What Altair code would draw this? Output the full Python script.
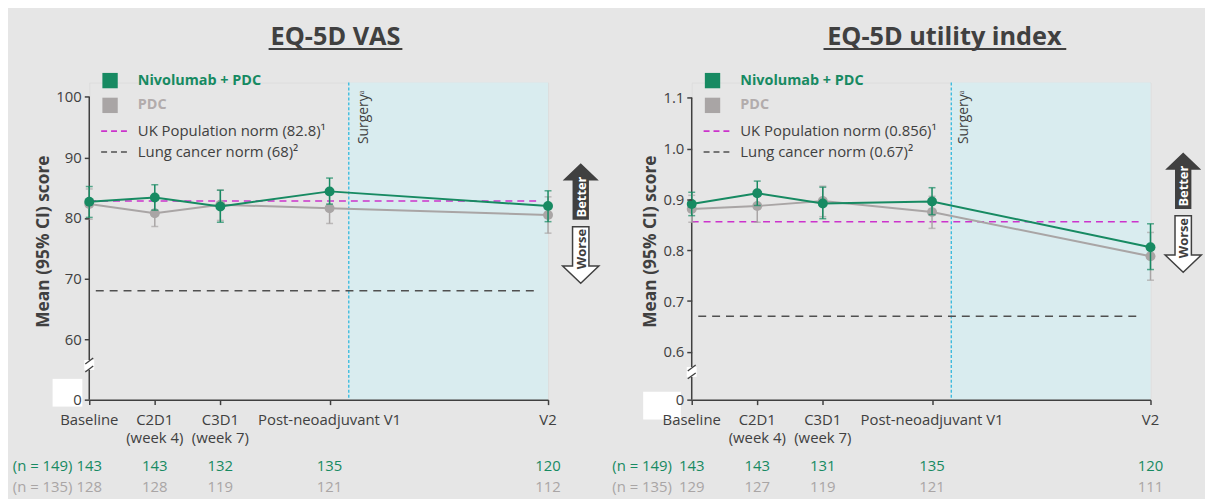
import altair as alt
import pandas as pd

# ---------------- data ----------------
tick_labels = ["Baseline", "C2D1\n(week 4)", "C3D1\n(week 7)", "Post-neoadjuvant V1", "V2"]
time_pos = [0, 3, 6, 11, 21]          # timepoint position (approx. weeks)
surgery_pos = 11.88
series_names = ["Nivolumab + PDC", "PDC"]
n_totals = ["(n = 149)", "(n = 135)"]

vas_nivo = [82.7, 83.4, 81.9, 84.4, 82.0]
vas_nivo_lo = [80.1, 81.3, 79.3, 82.3, 79.4]
vas_nivo_hi = [85.2, 85.5, 84.6, 86.6, 84.5]
vas_pdc = [82.3, 80.8, 82.2, 81.6, 80.5]
vas_pdc_lo = [79.8, 78.6, 79.6, 79.1, 77.5]
vas_pdc_hi = [84.8, 83.0, 84.6, 84.1, 83.5]
vas_uk_norm = 82.8
vas_lung_norm = 68
vas_n_nivo = [143, 143, 132, 135, 120]
vas_n_pdc = [128, 128, 119, 121, 112]

ui_nivo = [0.891, 0.912, 0.892, 0.896, 0.806]
ui_nivo_lo = [0.868, 0.888, 0.862, 0.870, 0.762]
ui_nivo_hi = [0.914, 0.936, 0.924, 0.923, 0.852]
ui_pdc = [0.881, 0.887, 0.897, 0.875, 0.788]
ui_pdc_lo = [0.855, 0.855, 0.866, 0.843, 0.741]
ui_pdc_hi = [0.908, 0.918, 0.926, 0.906, 0.835]
ui_uk_norm = 0.856
ui_lung_norm = 0.67
ui_n_nivo = [143, 143, 131, 135, 120]
ui_n_pdc = [129, 127, 119, 121, 111]

# ---------------- style ----------------
DARK = "#404040"
GREEN = "#178a62"
GRAY = "#a9a5a5"
GRAY_TXT = "#b2acac"
MAGENTA = "#cc33cc"
CYAN = "#22b5dc"
SHADE = "#d9ecef"
BG = "#e6e6e6"
W, H = 463, 320
FONT = "Open Sans"


def one(**kw):
    return pd.DataFrame({k: [v] for k, v in kw.items()})


def panel(title, title_x, ul, ydom, yticks, yfmt, zero_cut,
          nivo, nlo, nhi, pdc, plo, phi, uk, lung, uk_label, lung_label,
          n_nivo, n_pdc, surg_dy, break_y, wbox, arrow_y, ntot_x, bounds):
    xs = alt.Scale(domain=[0, 21], nice=False, zero=False)
    ys = alt.Scale(domain=ydom, nice=False, zero=False)

    xaxis = alt.Axis(values=time_pos, labels=False, tickSize=5, tickColor=DARK, tickWidth=1.5,
                     domainColor=DARK, domainWidth=1.5, grid=False, title=None, zindex=1)
    yaxis = alt.Axis(values=yticks, format=yfmt,
                     labelExpr=f"datum.value < {zero_cut} ? '0' : datum.label",
                     domain=False, tickSize=5, tickColor=DARK, tickWidth=1.5,
                     labelColor=DARK, labelFontSize=15, labelPadding=3, labelFont=FONT,
                     title="Mean (95% CI) score", titleFontSize=17.5, titleFontWeight="bold",
                     titleColor=DARK, titlePadding=3, titleFont=FONT, grid=False, zindex=1)

    def X(f):
        return alt.X(f"{f}:Q", scale=xs, axis=xaxis)

    def Y(f):
        return alt.Y(f"{f}:Q", scale=ys, axis=yaxis)

    layers = []
    layers.append(alt.Chart(one(a=0)).mark_rect(opacity=0).encode(
        x=alt.value(bounds[0]), x2=alt.value(bounds[1]),
        y=alt.value(bounds[2]), y2=alt.value(bounds[3])))
    # shaded post-surgery region
    layers.append(alt.Chart(one(x0=surgery_pos, x1=time_pos[-1])).mark_rect(color=SHADE).encode(
        x=X("x0"), x2="x1:Q", y=alt.value(0), y2=alt.value(H)))
    # white box artefact
    layers.append(alt.Chart(one(a=0)).mark_rect(color="white").encode(
        x=alt.value(wbox[0]), x2=alt.value(wbox[1]), y=alt.value(wbox[2]), y2=alt.value(wbox[3])))
    # y axis line
    layers.append(alt.Chart(one(x=0, y0=ydom[0], y1=yticks[-1])).mark_rule(color=DARK, strokeWidth=1.5).encode(
        x=X("x"), y=Y("y0"), y2="y1:Q"))
    # axis break
    layers.append(alt.Chart(one(a=0)).mark_rect(color="white").encode(
        x=alt.value(-5), x2=alt.value(5), y=alt.value(break_y - 5), y2=alt.value(break_y + 5)))
    for off in (-4, 4):
        layers.append(alt.Chart(one(a=0)).mark_rule(color=DARK, strokeWidth=1.3).encode(
            x=alt.value(-4), x2=alt.value(4), y=alt.value(break_y + off + 3), y2=alt.value(break_y + off - 3)))
    # surgery line and label
    layers.append(alt.Chart(one(x=surgery_pos)).mark_rule(color=CYAN, strokeDash=[3, 2], strokeWidth=1.2).encode(
        x=X("x"), y=alt.value(0), y2=alt.value(H)))
    layers.append(alt.Chart(one(x=surgery_pos, t="Surgeryᵃ")).mark_text(
        angle=270, align="right", baseline="middle", dy=surg_dy, fontSize=14, color=DARK, font=FONT).encode(
        x=X("x"), y=alt.value(8), text="t:N"))
    # norms
    layers.append(alt.Chart(one(x0=0, x1=20.6, y=uk)).mark_rule(color=MAGENTA, strokeDash=[7, 5], strokeWidth=1.6).encode(
        x=X("x0"), x2="x1:Q", y=Y("y")))
    layers.append(alt.Chart(one(x0=0.3, x1=20.6, y=lung)).mark_rule(color="#505050", strokeDash=[8, 6], strokeWidth=1.6).encode(
        x=X("x0"), x2="x1:Q", y=Y("y")))

    # series
    for m, lo, hi, col in [(pdc, plo, phi, GRAY), (nivo, nlo, nhi, GREEN)]:
        df = pd.DataFrame({"x": time_pos, "m": m, "lo": lo, "hi": hi})
        base = alt.Chart(df)
        layers.append(base.mark_line(color=col, strokeWidth=2).encode(x=X("x"), y=Y("m")))
        layers.append(base.mark_rule(color=col, strokeWidth=1.5).encode(x=X("x"), y=Y("lo"), y2="hi:Q"))
        layers.append(base.mark_tick(color=col, orient="horizontal", size=7, thickness=1.5).encode(x=X("x"), y=Y("lo")))
        layers.append(base.mark_tick(color=col, orient="horizontal", size=7, thickness=1.5).encode(x=X("x"), y=Y("hi")))
        layers.append(base.mark_circle(color=col, size=100, opacity=1).encode(x=X("x"), y=Y("m")))

    # x tick labels
    layers.append(alt.Chart(pd.DataFrame({"x": time_pos, "lab": tick_labels})).mark_text(
        fontSize=15, color=DARK, baseline="top", lineBreak="\n", lineHeight=18, font=FONT).encode(
        x=X("x"), y=alt.value(334), text="lab:N"))
    # n rows
    for vals, col, tot, yy in [(n_nivo, GREEN, n_totals[0], 387), (n_pdc, GRAY, n_totals[1], 408)]:
        layers.append(alt.Chart(pd.DataFrame({"x": time_pos, "n": vals})).mark_text(
            fontSize=15, color=col, baseline="middle", font=FONT).encode(x=X("x"), y=alt.value(yy), text="n:N"))
        layers.append(alt.Chart(one(t=tot)).mark_text(
            fontSize=15, color=col, align="right", baseline="middle", font=FONT).encode(
            x=alt.value(ntot_x), y=alt.value(yy), text="t:N"))

    # legend
    for name, col, tcol, yy in [(series_names[0], GREEN, GREEN, -2), (series_names[1], GRAY, GRAY_TXT, 23)]:
        layers.append(alt.Chart(one(a=0)).mark_point(shape="square", filled=True, size=240, color=col, opacity=1).encode(
            x=alt.value(21), y=alt.value(yy)))
        layers.append(alt.Chart(one(t=name)).mark_text(
            fontSize=14.5, fontWeight="bold", color=tcol, align="left", baseline="middle", font=FONT).encode(
            x=alt.value(49), y=alt.value(yy), text="t:N"))
    for lab, col, yy in [(uk_label, MAGENTA, 49), (lung_label, "#505050", 70)]:
        layers.append(alt.Chart(one(a=0)).mark_rule(color=col, strokeDash=[6, 4], strokeWidth=1.6).encode(
            x=alt.value(12), x2=alt.value(41), y=alt.value(yy)))
        layers.append(alt.Chart(one(t=lab)).mark_text(
            fontSize=15, color=DARK, align="left", baseline="middle", font=FONT).encode(
            x=alt.value(49), y=alt.value(yy), text="t:N"))

    # better / worse arrows
    up = "M0,-1L0.64,-0.39L0.29,-0.39L0.29,1L-0.29,1L-0.29,-0.39L-0.64,-0.39Z"
    down = "M0,1L0.64,0.39L0.29,0.39L0.29,-1L-0.29,-1L-0.29,0.39L-0.64,0.39Z"
    layers.append(alt.Chart(one(a=0)).mark_point(shape=up, filled=True, size=3249, color=DARK, opacity=1).encode(
        x=alt.value(496), y=alt.value(arrow_y[0])))
    layers.append(alt.Chart(one(a=0)).mark_point(shape=down, filled=True, size=3249, fill="white",
                                                  stroke=DARK, strokeWidth=1.5, opacity=1).encode(
        x=alt.value(496), y=alt.value(arrow_y[1])))
    layers.append(alt.Chart(one(t="Better")).mark_text(
        angle=270, fontSize=13, fontWeight="bold", color="white", align="center", baseline="middle", font=FONT).encode(
        x=alt.value(497), y=alt.value(arrow_y[0] + 5.5), text="t:N"))
    layers.append(alt.Chart(one(t="Worse")).mark_text(
        angle=270, fontSize=13, fontWeight="bold", color=DARK, align="center", baseline="middle", font=FONT).encode(
        x=alt.value(497), y=alt.value(arrow_y[1] - 6), text="t:N"))

    # title + underline
    layers.append(alt.Chart(one(t=title)).mark_text(
        fontSize=25.5, fontWeight="bold", color=DARK, align="center", baseline="alphabetic", font=FONT).encode(
        x=alt.value(title_x), y=alt.value(-38), text="t:N"))
    layers.append(alt.Chart(one(a=0)).mark_rule(color=DARK, strokeWidth=2).encode(
        x=alt.value(ul[0]), x2=alt.value(ul[1]), y=alt.value(-34)))

    return alt.layer(*layers).properties(width=W, height=H)


left = panel("EQ-5D VAS", 248.5, (181, 316), [50, 102.37], [50, 60, 70, 80, 90, 100], "d", 55,
             vas_nivo, vas_nivo_lo, vas_nivo_hi, vas_pdc, vas_pdc_lo, vas_pdc_hi,
             vas_uk_norm, vas_lung_norm, "UK Population norm (82.8)¹", "Lung cancer norm (68)²",
             vas_n_nivo, vas_n_pdc, 15, 285, (-37, -7, 299, 327), (110, 174), -17, (-81, 0, -72, 0))

right = panel("EQ-5D utility index", 255, (133, 378), [0.506, 1.1298], [0.506, 0.6, 0.7, 0.8, 0.9, 1.0, 1.1], ".1f", 0.55,
              ui_nivo, ui_nivo_lo, ui_nivo_hi, ui_pdc, ui_pdc_lo, ui_pdc_hi,
              ui_uk_norm, ui_lung_norm, "UK Population norm (0.856)¹", "Lung cancer norm (0.67)²",
              ui_n_nivo, ui_n_pdc, 13, 292, (-49, -11, 312, 340), (99, 163), -20, (0, 516, 0, 419))

chart = alt.hconcat(left, right, spacing=145).properties(
    bounds="flush", padding=0, background=BG
).configure_view(stroke=None).configure(font=FONT)

chart.save("out.html", embed_options={"renderer": "svg", "actions": False})
